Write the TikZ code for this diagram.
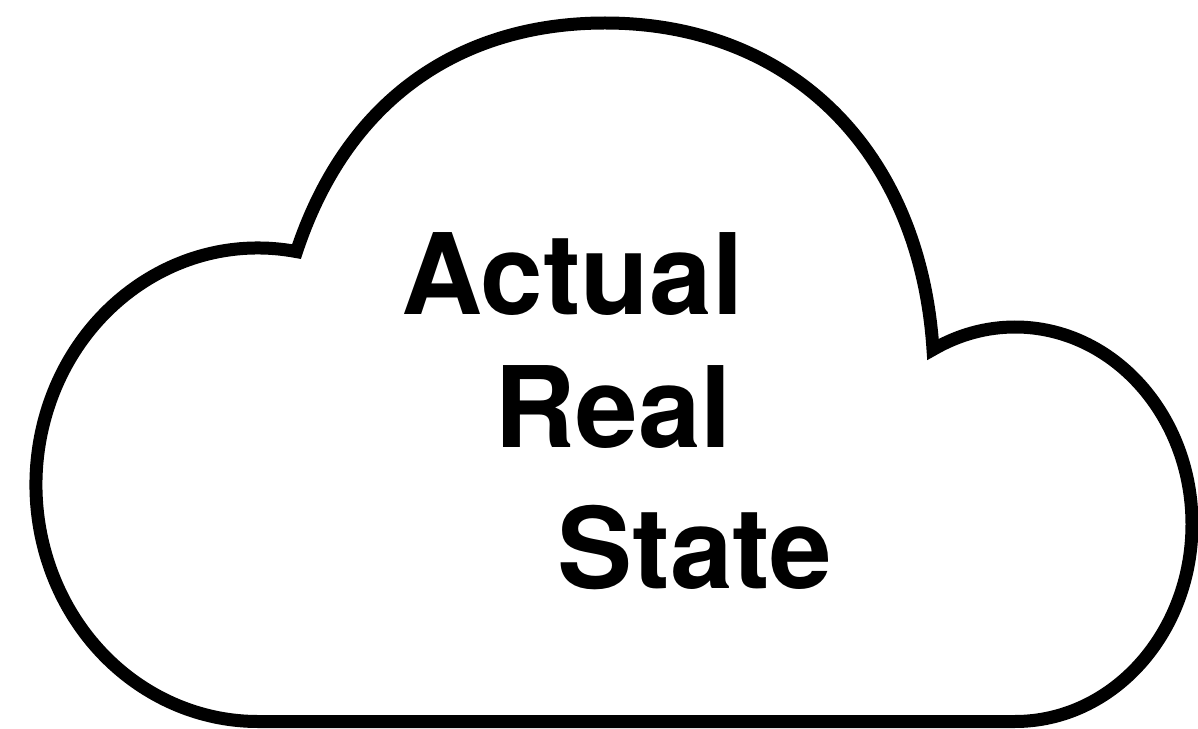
\documentclass[tikz,border=0pt]{standalone}
\usepackage{fontspec}
\setmainfont{TeX Gyre Heros}
\usetikzlibrary{positioning}

\begin{document}
\begin{tikzpicture}[
        x=0.02cm,
        y=0.02cm,
        cloud/.style={draw=black, line width=0.26cm, line join=miter},
        word/.style={font=\fontsize{64}{76}\selectfont\bfseries, inner sep=0pt, anchor=base west}
    ]
        \useasboundingbox (0,0) rectangle (1198,728);

        % cloud outline: left lobe, flat bottom, right lobe, big top arc
        \draw[cloud] (296.5,476.4) arc[start angle=80, end angle=270, x radius=222, y radius=236.75]
            -- (1015,6.5) arc[start angle=-90, end angle=117.6, x radius=177, y radius=197.25]
            .. controls (920,578) and (790,705) .. (605,705)
            .. controls (470,705) and (350,638) .. cycle;

        % staggered label
        \node[word] (actual) at (401,413) {Actual};
        \node[word] (real) at (494,280) {Real};
        \node[word] (state) at (557,140) {State};
    \end{tikzpicture}
\end{document}
